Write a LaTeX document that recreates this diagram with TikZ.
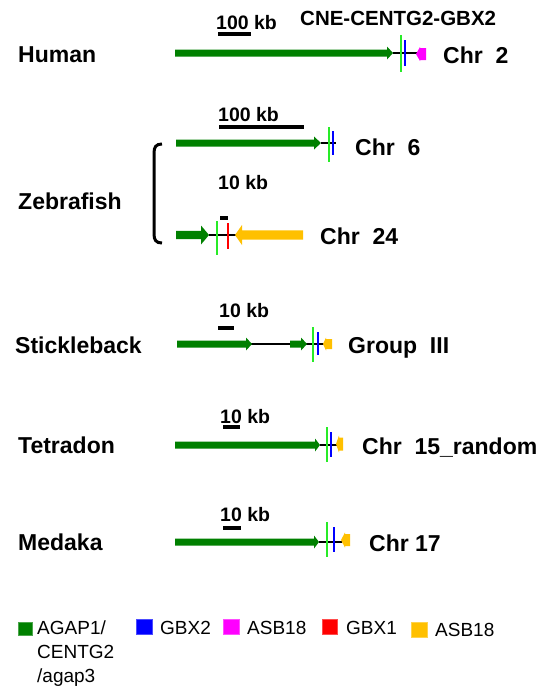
\documentclass[tikz,border=0pt]{standalone}
\usepackage{fontspec}
\setmainfont{Liberation Sans}
\definecolor{gdark}{RGB}{0,128,0}
\definecolor{glime}{RGB}{40,235,40}
\definecolor{gblue}{RGB}{0,0,255}
\definecolor{gmag}{RGB}{255,0,255}
\definecolor{gred}{RGB}{255,0,0}
\definecolor{gorange}{RGB}{255,192,0}
% gene arrow: x0, x head base, x tip, y, body half height, head half height, colour
\newcommand{\genearrow}[7]{%
  \fill[#7] (#1,{#4-#5}) -- (#2,{#4-#5}) -- (#2,{#4-#6}) -- (#3,#4) -- (#2,{#4+#6}) -- (#2,{#4+#5}) -- (#1,{#4+#5}) -- cycle;}
\tikzset{
  species/.style={anchor=base west, inner sep=0pt, font=\fontsize{23}{27}\selectfont\bfseries},
  chrlab/.style={anchor=base west, inner sep=0pt, font=\fontsize{23}{27}\selectfont\bfseries},
  scaletxt/.style={anchor=base west, inner sep=0pt, font=\fontsize{19.5}{23}\selectfont\bfseries},
  scalebar/.style={line width=3.5pt, black},
  backbone/.style={line width=1.2pt, black},
  cne/.style={line width=2.6pt, glime},
  gbxtwo/.style={line width=2pt, gblue},
  gbxone/.style={line width=2pt, gred},
  legtxt/.style={anchor=base west, inner sep=0pt, font=\fontsize{19}{24}\selectfont},
  legbox/.style={draw=#1!70!white, line width=0.5pt, fill=#1},
}
\begin{document}
\begin{tikzpicture}[x=1pt, y=-1pt]
\useasboundingbox (0,0) rectangle (548,686);

% ---------------- Human ----------------
\node[species] (human) at (18,62.5) {Human};
\node[anchor=base west, inner sep=0pt, font=\fontsize{20.5}{24}\selectfont\bfseries] (cne) at (300,25) {CNE-CENTG2-GBX2};
\node[scaletxt] (hsc) at (216,29) {100 kb};
\draw[scalebar] (218,34) -- (251,34);
\coordinate (hL) at (393,53);
\coordinate (hR) at (417,53);
\draw[backbone] (hL) -- (hR);
\genearrow{175}{387}{393}{53}{3.5}{6.5}{gdark}
\draw[cne] (401,35) -- (401,72);
\draw[gbxtwo] (405,40) -- (405,66);
\genearrow{426}{420}{416}{54}{6}{7}{gmag}
\node[chrlab] (chr2) at (443,63) {Chr~~2};

% ---------------- Zebrafish ----------------
\node[species] (zebra) at (18,209) {Zebrafish};
\draw[line width=3pt, black] (162,144) .. controls (156,144) and (154,147) .. (154,153)
  -- (154,234) .. controls (154,240) and (156,243) .. (162,243);
% Chr 6
\node[scaletxt] (zsc1) at (218,121) {100 kb};
\draw[scalebar] (219,127) -- (304,127);
\coordinate (z6L) at (321,143);
\coordinate (z6R) at (336,143);
\draw[backbone] (z6L) -- (z6R);
\genearrow{176}{314}{321}{143}{3.5}{6.5}{gdark}
\draw[cne] (329,127) -- (329,162);
\draw[gbxtwo] (333,131) -- (333,155);
\node[chrlab] (chr6) at (355,155) {Chr~~6};
% Chr 24
\node[scaletxt] (zsc2) at (218,189) {10 kb};
\draw[scalebar] (220,218) -- (228,218);
\coordinate (z24L) at (209,235);
\coordinate (z24R) at (236,235);
\draw[backbone] (z24L) -- (z24R);
\genearrow{176}{201}{209}{235}{4.2}{9.5}{gdark}
\draw[cne] (217,221) -- (217,255);
\draw[gbxone] (228,223) -- (228,249);
\genearrow{303}{242}{235}{235}{4.7}{10}{gorange}
\node[chrlab] (chr24) at (320,244) {Chr~~24};

% ---------------- Stickleback ----------------
\node[species] (stickle) at (15,353) {Stickleback};
\node[scaletxt] (ssc) at (219,317) {10 kb};
\draw[scalebar] (218,328) -- (234,328);
\coordinate (sL) at (251,344);
\coordinate (sR) at (324,344);
\draw[backbone] (sL) -- (sR);
\genearrow{177}{246}{252}{344}{3.5}{6.5}{gdark}
\genearrow{290}{301}{307}{344}{3.5}{6.5}{gdark}
\draw[cne] (313,327) -- (313,362);
\draw[gbxtwo] (318,332) -- (318,355);
\genearrow{332}{326}{323}{344}{5}{6.5}{gorange}
\node[chrlab] (grp3) at (348,353) {Group~~III};

% ---------------- Tetradon ----------------
\node[species] (tetra) at (18,453) {Tetradon};
\node[scaletxt] (tsc) at (220,423) {10 kb};
\draw[scalebar] (223,427) -- (240,427);
\coordinate (tL) at (320,445);
\coordinate (tR) at (337,445);
\draw[backbone] (tL) -- (tR);
\genearrow{175}{315}{320}{445}{3.5}{6.5}{gdark}
\draw[cne] (327,427) -- (327,462);
\draw[gbxtwo] (331,432) -- (331,457);
\genearrow{343}{339}{336}{444}{6.5}{8.5}{gorange}
\node[chrlab] (chr15) at (362,454) {Chr~~15\_random};

% ---------------- Medaka ----------------
\node[species] (medaka) at (18,550) {Medaka};
\node[scaletxt] (msc) at (220,521) {10 kb};
\draw[scalebar] (223,528) -- (241,528);
\coordinate (mL) at (319,542);
\coordinate (mR) at (342,542);
\draw[backbone] (mL) -- (mR);
\genearrow{175}{314}{319}{542}{3.5}{6.5}{gdark}
\draw[cne] (327,522) -- (327,557);
\draw[line width=2.5pt, gblue] (334,527) -- (334,552);
\genearrow{350}{345}{341}{540}{6}{7.5}{gorange}
\node[chrlab] (chr17) at (369,551) {Chr 17};

% ---------------- Legend ----------------
\fill[legbox=gdark] (18,622) rectangle (32,635);
\node[legtxt] (lega) at (37,634) {AGAP1/};
\node[legtxt] (legb) at (37,658) {CENTG2};
\node[legtxt] (legc) at (37,682) {/agap3};
\fill[legbox=gblue] (136,619) rectangle (152,634);
\node[legtxt] (leggbx2) at (160,634) {GBX2};
\fill[legbox=gmag] (223,619) rectangle (239,634);
\node[legtxt] (legasb1) at (247,634) {ASB18};
\fill[legbox=gred] (322,619) rectangle (337,634);
\node[legtxt] (leggbx1) at (346,634) {GBX1};
\fill[legbox=gorange] (411,622) rectangle (427,637);
\node[legtxt] (legasb2) at (435,636) {ASB18};
\end{tikzpicture}
\end{document}
